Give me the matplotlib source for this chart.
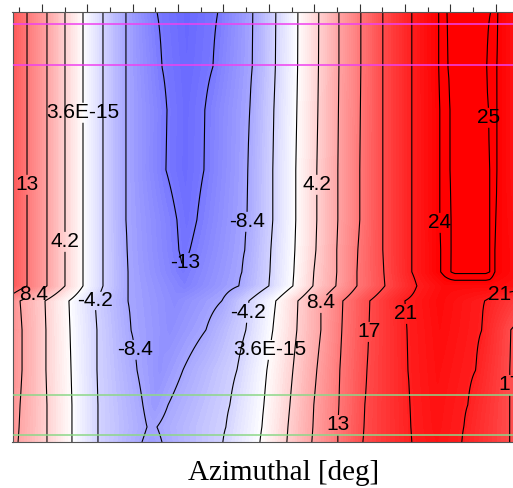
import numpy as np
import matplotlib
matplotlib.use("Agg")
import matplotlib.pyplot as plt
from matplotlib.text import Text
from matplotlib.font_manager import FontProperties
from matplotlib.colors import Normalize

plt.rcParams['font.family'] = ['Liberation Sans', 'DejaVu Sans']
plt.rcParams['contour.negative_linestyle'] = 'solid'

# ---------------- data ----------------
# radial rows of the measured field (top -> bottom)
radius = [43.0, 37.5, 33.2, 27.2, 22.2, 19.2, 17.0, 15.6, 14.1, 11.2, 7.2, 3.7, 1.5, 0.0]

# per-row azimuth anchors [deg] and field values
az_43 = [-19.5, -9.9, 3.3, 15.2, 27.1, 40.3, 55.5, 76.0, 95.8, 116.3, 139.4, 154.6, 169.2, 183.0, 196.3, 210.8, 225.3, 244.5, 262.3, 267.6, 281.5, 296.7, 301.3, 311.2, 339.5]
val_43 = [15.5, 12.6, 8.4, 4.2, 0.0, -4.2, -8.4, -12.6, -14.2, -12.6, -8.4, -4.2, 0.0, 4.2, 8.4, 12.6, 16.8, 21.0, 24.0, 25.2, 26.0, 25.2, 24.0, 22.5, 20.0]
az_37 = [-19.5, -9.9, 3.3, 15.2, 27.1, 40.3, 55.5, 79.3, 95.8, 113.0, 139.0, 154.3, 169.0, 182.8, 196.3, 210.8, 225.3, 244.5, 262.3, 268.3, 281.5, 294.1, 300.7, 311.2, 339.5]
val_37 = [15.5, 12.6, 8.4, 4.2, 0.0, -4.2, -8.4, -12.6, -14.0, -12.6, -8.4, -4.2, 0.0, 4.2, 8.4, 12.6, 16.8, 21.0, 24.0, 25.2, 26.0, 25.2, 24.0, 22.5, 20.0]
az_33 = [-19.5, -9.9, 3.3, 15.2, 27.1, 40.3, 55.5, 82.6, 95.2, 107.7, 137.4, 153.3, 168.5, 182.4, 196.0, 210.5, 225.3, 244.5, 263.0, 269.6, 282.8, 295.4, 300.7, 311.2, 339.5]
val_33 = [15.5, 12.6, 8.4, 4.2, 0.0, -4.2, -8.4, -12.6, -13.8, -12.6, -8.4, -4.2, 0.0, 4.2, 8.4, 12.6, 16.8, 21.0, 24.0, 25.2, 25.9, 25.2, 24.0, 22.5, 20.0]
az_27 = [-19.5, -9.9, 3.3, 15.2, 27.1, 40.3, 55.5, 81.9, 94.5, 107.1, 136.1, 152.6, 167.8, 181.7, 195.6, 210.1, 225.3, 244.5, 263.0, 269.6, 282.8, 296.0, 300.7, 311.2, 339.5]
val_27 = [15.5, 12.6, 8.4, 4.2, 0.0, -4.2, -8.4, -12.6, -13.8, -12.6, -8.4, -4.2, 0.0, 4.2, 8.4, 12.6, 16.8, 21.0, 24.0, 25.2, 25.8, 25.2, 24.0, 22.5, 20.0]
az_22 = [-19.5, -9.9, 3.3, 15.2, 27.1, 40.3, 55.5, 89.2, 95.8, 102.4, 135.5, 152.6, 167.8, 181.7, 195.6, 210.1, 225.3, 244.5, 263.0, 270.3, 282.8, 296.0, 300.0, 311.2, 339.5]
val_22 = [15.5, 12.6, 8.4, 4.2, 0.0, -4.2, -8.4, -12.6, -13.4, -12.6, -8.4, -4.2, 0.0, 4.2, 8.4, 12.6, 16.8, 21.0, 24.0, 25.2, 25.6, 25.2, 24.0, 22.8, 20.5]
az_19 = [-19.5, -9.9, 3.3, 15.2, 27.1, 40.3, 56.2, 90.5, 94.2, 97.8, 134.1, 151.3, 167.2, 181.1, 194.9, 208.8, 225.3, 244.5, 263.6, 270.3, 282.8, 296.0, 299.3, 311.2, 339.5]
val_19 = [15.5, 12.6, 8.4, 4.2, 0.0, -4.2, -8.4, -12.6, -13.0, -12.6, -8.4, -4.2, 0.0, 4.2, 8.4, 12.6, 16.8, 21.0, 24.0, 25.2, 25.5, 25.2, 24.0, 23.0, 21.0]
az_17 = [-19.5, -9.9, 3.3, 15.2, 27.1, 40.3, 56.8, 93.2, 132.2, 150.7, 166.5, 179.7, 194.9, 208.2, 226.0, 244.5, 263.6, 270.3, 273.0, 293.4, 296.0, 299.3, 311.2, 339.5]
val_17 = [15.5, 12.6, 8.4, 4.2, 0.0, -4.2, -8.4, -12.55, -8.4, -4.2, 0.0, 4.2, 8.4, 12.6, 16.8, 21.0, 24.0, 25.2, 25.5, 25.5, 25.2, 24.0, 23.0, 21.0]
az_15 = [-19.5, -9.9, 3.3, 15.2, 27.1, 40.3, 56.8, 94.5, 130.2, 150.0, 165.9, 179.1, 194.3, 208.2, 226.7, 247.8, 266.3, 296.0, 311.2, 339.5]
val_15 = [15.5, 12.6, 8.4, 4.2, 0.0, -4.2, -8.4, -12.0, -8.4, -4.2, 0.0, 4.2, 8.4, 12.6, 16.8, 21.0, 23.0, 23.0, 22.5, 21.5]
az_14 = [-19.5, -14.5, 2.0, 17.8, 35.0, 56.8, 87.9, 118.9, 136.8, 154.6, 169.2, 184.4, 198.9, 216.7, 239.9, 263.0, 292.7, 311.2, 339.5]
val_14 = [10.2, 8.4, 4.2, 0.0, -4.2, -8.4, -11.0, -8.4, -4.2, 0.0, 4.2, 8.4, 12.6, 16.8, 21.0, 23.0, 21.0, 18.5, 15.0]
az_11 = [-19.5, -13.2, 2.6, 18.5, 36.3, 58.8, 84.6, 108.4, 134.8, 152.6, 168.5, 184.4, 198.2, 216.1, 241.2, 263.0, 290.8, 309.9, 339.5]
val_11 = [10.3, 8.4, 4.2, 0.0, -4.2, -8.4, -10.6, -8.4, -4.2, 0.0, 4.2, 8.4, 12.6, 16.8, 21.0, 22.8, 21.0, 16.8, 13.5]
az_7 = [-19.5, -13.2, 2.6, 19.2, 36.3, 62.8, 78.0, 93.2, 128.9, 148.7, 165.9, 181.7, 196.9, 214.8, 241.9, 261.7, 286.8, 309.2, 339.5]
val_7 = [10.2, 8.4, 4.2, 0.0, -4.2, -8.4, -10.2, -8.4, -4.2, 0.0, 4.2, 8.4, 12.6, 16.8, 21.0, 22.5, 21.0, 16.8, 13.0]
az_4 = [-19.5, -14.5, 3.3, 19.8, 37.0, 66.7, 74.7, 83.3, 124.2, 146.7, 163.9, 179.7, 196.3, 213.4, 243.2, 261.0, 281.5, 309.2, 339.5]
val_4 = [10.0, 8.4, 4.2, 0.0, -4.2, -8.4, -9.6, -8.4, -4.2, 0.0, 4.2, 8.4, 12.6, 16.8, 21.0, 22.3, 21.0, 16.8, 13.0]
az_2 = [-19.5, -15.2, 3.3, 19.8, 37.0, 69.4, 72.7, 76.0, 121.6, 145.4, 162.6, 179.1, 195.6, 212.8, 243.8, 261.0, 278.9, 309.2, 339.5]
val_2 = [10.0, 8.4, 4.2, 0.0, -4.2, -8.4, -8.6, -8.4, -4.2, 0.0, 4.2, 8.4, 12.6, 16.8, 21.0, 22.2, 21.0, 16.8, 13.0]
az_0 = [-19.5, -15.9, 3.3, 19.8, 37.0, 66.1, 72.7, 79.3, 119.6, 144.1, 161.9, 178.4, 195.6, 212.1, 244.5, 261.0, 277.6, 309.2, 339.5]
val_0 = [10.0, 8.4, 4.2, 0.0, -4.2, -8.4, -9.2, -8.4, -4.2, 0.0, 4.2, 8.4, 12.6, 16.8, 21.0, 22.0, 21.0, 16.8, 13.0]

rows = [(az_43, val_43), (az_37, val_37), (az_33, val_33), (az_27, val_27),
        (az_22, val_22), (az_19, val_19), (az_17, val_17), (az_15, val_15),
        (az_14, val_14), (az_11, val_11), (az_7, val_7), (az_4, val_4),
        (az_2, val_2), (az_0, val_0)]

# contour levels and their printed labels
line_levels = [-12.6, -8.4, -4.2, 3.6e-15, 4.2, 8.4, 12.6, 16.8, 21.0, 24.0, 25.2]
level_text = ['-13', '-8.4', '-4.2', '3.6E-15', '4.2', '8.4', '13', '17', '21', '24', '25']

# label placements: level, azimuth, radius
label_level = [3.6e-15, 12.6, 4.2, 8.4, -4.2, -8.4, -12.6, -8.4, 4.2, -4.2,
               3.6e-15, 8.4, 16.8, 21.0, 21.0, 12.6, 16.8, 24.0, 25.2]
label_az = [27.1, -9.9, 15.2, -5.6, 35.0, 60.8, 93.8, 135.5, 181.7, 136.8,
            150.7, 184.4, 216.1, 240.5, 302.6, 195.6, 309.2, 263.0, 296.0]
label_r = [32.9, 25.7, 20.0, 14.85, 14.2, 9.2, 18.0, 22.0, 25.7, 12.9,
           9.2, 13.9, 11.0, 12.8, 14.8, 1.7, 5.7, 21.9, 32.4]

# reference radii
magenta_r = [41.75, 37.7]
green_r = [4.73, 0.7]

# ---------------- figure ----------------
W, H = 513, 488
fig = plt.figure(figsize=(W / 100, H / 100), dpi=100)
ax = fig.add_axes([12.5 / W, 46 / H, 543 / W, 430.3 / H])

az_grid = np.linspace(-19.5, 339.5, 719)
Z = np.array([np.interp(az_grid, a, v) for a, v in rows])
AZ, R = np.meshgrid(az_grid, radius)

norm = Normalize(-24, 24)
ax.contourf(AZ, R, Z, levels=np.arange(-16, 28.01, 0.4), cmap='bwr', norm=norm, extend='both')

for r in magenta_r:
    ax.axhline(r, color='#f040f0', lw=1.1, zorder=5)
for r in green_r:
    ax.axhline(r, color='#8cd888', lw=1.1, zorder=5)

ax.set_xlim(-19.5, 339.5)
ax.set_ylim(0, 43)

ax.xaxis.set_ticks_position('top')
ax.set_xticks(np.arange(0, 331, 30))
ax.set_xticks(np.arange(-15, 340, 30), minor=True)
ax.tick_params(axis='x', which='major', direction='out', length=6, width=0.8,
               color='#333333', labeltop=False, labelbottom=False)
ax.tick_params(axis='x', which='minor', direction='out', length=3.5, width=0.8,
               color='#333333')
ax.set_yticks([])
for s in ax.spines.values():
    s.set_color('#555555')
    s.set_linewidth(0.8)

ax.set_xlabel('Azimuthal [deg]', fontfamily=['Liberation Serif', 'DejaVu Serif'],
              fontsize=21, labelpad=13)

renderer = fig.canvas.get_renderer()
fp = FontProperties(size=15)
for lev, txt in zip(line_levels, level_text):
    cs = ax.contour(AZ, R, Z, levels=[lev], colors='black', linewidths=0.8,
                    linestyles='solid')
    pts = [(x, y) for l, x, y in zip(label_level, label_az, label_r) if l == lev]
    if not pts:
        continue
    w = Text(0, 0, txt, figure=fig, fontproperties=fp).get_window_extent(renderer).width
    ax.clabel(cs, manual=pts, inline=True, inline_spacing=(20 - w) / 2,
              fmt={cs.levels[0]: txt}, fontsize=15)
for t in ax.texts:
    t.set_rotation(0)

fig.savefig('out.png', dpi=100)
